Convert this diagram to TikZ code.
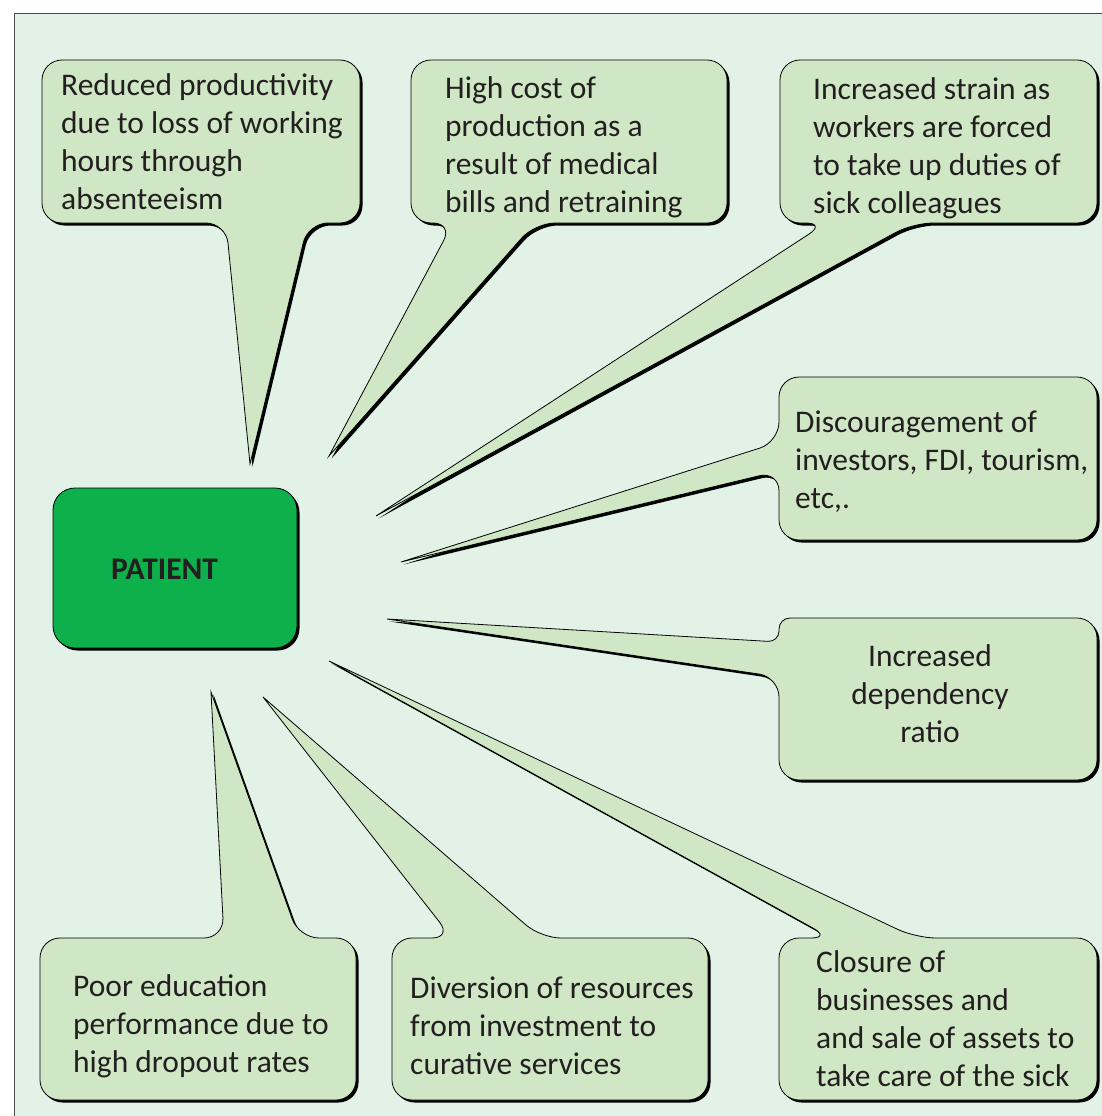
\documentclass[tikz,border=0pt]{standalone}
\usepackage{fontspec}
\setmainfont{Carlito}
\usetikzlibrary{shadows}
\definecolor{bgmint}{RGB}{226,242,230}
\definecolor{bubblefill}{RGB}{207,231,197}
\definecolor{patientgreen}{RGB}{13,176,75}
\definecolor{inktext}{RGB}{35,31,32}
\tikzset{
  bubble/.style={draw=black, line width=0.8pt, fill=bubblefill, rounded corners=20pt,
    drop shadow={opacity=1, fill=black, shadow xshift=2.5pt, shadow yshift=-2.5pt}},
  bubbletext/.style={anchor=base west, align=left, inner sep=0pt, text=inktext,
    font=\fontsize{31.5}{38}\selectfont}
}
\begin{document}
\begin{tikzpicture}[x=1pt, y=1pt]
    \useasboundingbox (0,0) rectangle (1102,-1116);
    \clip (0,0) rectangle (1102,-1116);
    \draw[fill=bgmint, draw=black!70, line width=0.8pt] (14,-13) rectangle (1112,-1126);

    \draw[bubble] (200,-60) -- (360,-60) -- (360,-223) -- (308,-223) [sharp corners] -- (250,-464)
      [rounded corners=20pt] -- (226,-223) -- (42,-223) -- (42,-60) -- cycle;
    \draw[bubble] (570,-60) -- (727,-60) -- (727,-223) -- (535,-223) [sharp corners] -- (329,-456)
      [rounded corners=20pt] -- (453,-223) -- (411,-223) -- (411,-60) -- cycle;
    \draw[bubble] (940,-60) -- (1097,-60) -- (1097,-223) -- (913,-223) [sharp corners] -- (376,-516)
      [rounded corners=20pt] -- (826,-223) -- (780,-223) -- (780,-60) -- cycle;
    \draw[bubble] (940,-377) -- (1097,-377) -- (1097,-540) -- (779,-540) -- (779,-471) [sharp corners] -- (401,-562)
      [rounded corners=20pt] -- (779,-442) -- (779,-377) -- cycle;
    \draw[bubble] (940,-618) -- (1097,-618) -- (1097,-780) -- (779,-780) -- (779,-677) [sharp corners] -- (387,-619)
      [rounded corners=11pt] -- (779,-642) -- (779,-618) [rounded corners=20pt] -- cycle;
    \draw[bubble] (779,-1020) -- (779,-938) -- (831,-938) [sharp corners] -- (329,-661)
      [rounded corners=20pt] -- (916,-938) -- (1097,-938) -- (1097,-1100) -- (779,-1100) -- cycle;
    \draw[bubble] (392,-1020) -- (392,-938) -- (452,-938) [sharp corners] -- (263,-697)
      [rounded corners=20pt] -- (541,-938) -- (708,-938) -- (708,-1100) -- (392,-1100) -- cycle;
    \draw[bubble] (40,-1020) -- (40,-938) -- (224,-938) [sharp corners] -- (211,-692)
      [rounded corners=20pt] -- (299,-938) -- (356,-938) -- (356,-1100) -- (40,-1100) -- cycle;

    \node[bubbletext] (productivity) at (61,-209) {Reduced productivity\\due to loss of working\\hours through\\absenteeism};
    \node[bubbletext] (cost) at (445,-212) {High cost of\\production as a\\result of medical\\bills and retraining};
    \node[bubbletext] (strain) at (813,-213) {Increased strain as\\workers are forced\\to take up duties of\\sick colleagues};
    \node[bubbletext] (investors) at (795,-508) {Discouragement of\\investors, FDI, tourism,\\etc,.};
    \node[bubbletext, anchor=base, align=center] (dependency) at (930,-742) {Increased\\dependency\\ratio};
    \node[bubbletext] (closure) at (816,-1086) {Closure of\\businesses and\\and sale of assets to\\take care of the sick};
    \node[bubbletext] (diversion) at (410,-1074) {Diversion of resources\\from investment to\\curative services};
    \node[bubbletext] (education) at (73,-1072) {Poor education\\performance due to\\high dropout rates};

    \draw[draw=black, line width=0.8pt, fill=patientgreen, rounded corners=22pt,
      drop shadow={opacity=1, fill=black, shadow xshift=2.5pt, shadow yshift=-2.5pt}]
      (53,-488) rectangle (297,-648);
    \node[inner sep=0pt, text=inktext, font=\fontsize{31.5}{38}\selectfont\bfseries] (patient) at (164.5,-569) {PATIENT};
\end{tikzpicture}
\end{document}
